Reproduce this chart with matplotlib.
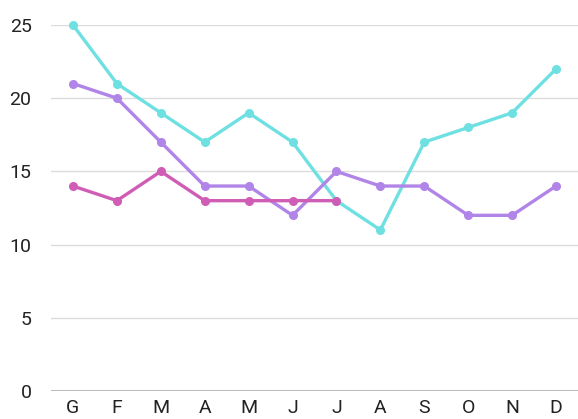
import matplotlib.pyplot as plt

months = ["G", "F", "M", "A", "M", "J", "J", "A", "S", "O", "N", "D"]
cyan_vals = [25, 21, 19, 17, 19, 17, 13, 11, 17, 18, 19, 22]
purple_vals = [21, 20, 17, 14, 14, 12, 15, 14, 14, 12, 12, 14]
magenta_vals = [14, 13, 15, 13, 13, 13, 13]

plt.rcParams['font.family'] = ['Roboto', 'DejaVu Sans']

fig = plt.figure(figsize=(5.78, 4.19), dpi=100)
ax = fig.add_axes([51/578, 28/419, 1 - 51/578, (391 - 25)/419])

x = list(range(len(months)))
ax.plot(x, cyan_vals, color="#6fe0e2", lw=2.4, marker="o", ms=5.5, zorder=3, clip_on=False)
ax.plot(x, purple_vals, color="#b184e8", lw=2.4, marker="o", ms=5.5, zorder=3, clip_on=False)
ax.plot(x[:len(magenta_vals)], magenta_vals, color="#d05db5", lw=2.4, marker="o", ms=5.5, zorder=3, clip_on=False)

ax.set_xlim(-0.5, 11.5)
ax.set_ylim(0, 25)
ax.set_yticks([0, 5, 10, 15, 20, 25])
ax.set_xticks(x)
ax.set_xticklabels(months)
ax.grid(axis="y", color="#dcdcdc", lw=1)
ax.axhline(0, color="#bdbdbd", lw=1.5, zorder=2)
for s in ax.spines.values():
    s.set_visible(False)
ax.tick_params(length=0, labelsize=14, colors="#222222")
ax.tick_params(axis="y", pad=14)
ax.tick_params(axis="x", pad=6)

fig.savefig("out.png", dpi=100)
